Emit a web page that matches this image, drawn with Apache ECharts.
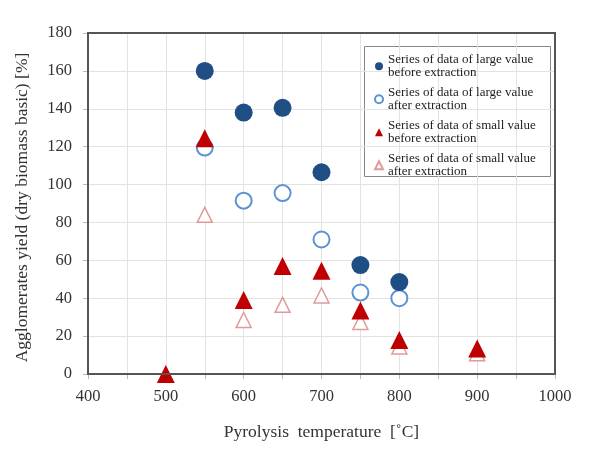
<!DOCTYPE html>
<html><head><meta charset="utf-8">
<script src="https://cdn.jsdelivr.net/npm/echarts@6/dist/echarts.min.js"></script>
<style>html,body{margin:0;padding:0;background:#fff}#c{width:603px;height:461px}</style>
</head><body><div id="c"></div>
<script>
const seriesNames = [
  "Series of data of large value\nbefore extraction",
  "Series of data of large value\nafter extraction",
  "Series of data of small value\nbefore extraction",
  "Series of data of small value\nafter extraction"
];
const largeBefore = [[550,160],[600,138],[650,140.5],[700,106.5],[750,57.5],[800,48.5]];
const largeAfter  = [[550,119.5],[600,91.5],[650,95.5],[700,71],[750,43],[800,40]];
const smallBefore = [[500,0],[550,124.5],[600,39],[650,57],[700,54.5],[750,33.5],[800,18],[900,13.5]];
const smallAfter  = [[550,84],[600,28.5],[650,36.5],[700,41.5],[750,27.5],[800,14.5],[900,11]];
const xTitle = "Pyrolysis  temperature  [\u02DAC]";
const yTitle = "Agglomerates yield (dry biomass basic) [%]";

const font = "Liberation Serif";
const chart = echarts.init(document.getElementById('c'));
chart.setOption({
  animation:false,
  textStyle:{fontFamily:font},
  grid:{left:88,right:48,top:33,bottom:87},
  xAxis:{type:'value',min:400,max:1000,interval:50,
    axisLine:{lineStyle:{color:'#555',width:2}},
    axisTick:{show:true,interval:0,length:5,lineStyle:{color:'#bbb'}},
    splitLine:{show:true,lineStyle:{color:'#e3e3e3'}},
    axisLabel:{color:'#333',fontSize:16.5,fontFamily:font,margin:14,
      formatter:v=> (v%100===0? String(v):'')},
    name:xTitle,nameLocation:'middle',nameGap:49,
    nameTextStyle:{color:'#333',fontSize:17.5,fontFamily:font}
  },
  yAxis:{type:'value',min:0,max:180,interval:20,
    axisLine:{show:true,lineStyle:{color:'#555',width:2}},
    axisTick:{show:true,length:5,lineStyle:{color:'#bbb'}},
    splitLine:{show:true,lineStyle:{color:'#e3e3e3'}},
    axisLabel:{color:'#333',fontSize:16.5,fontFamily:font,margin:16},
    name:yTitle,nameLocation:'middle',nameGap:57,
    nameTextStyle:{color:'#333',fontSize:17.5,fontFamily:font,padding:[0,8,0,0]}
  },
  graphic:[
    {type:'rect',shape:{x:88,y:33,width:467,height:341},
      style:{fill:'none',stroke:'#555',lineWidth:2},silent:true,z:10},
    {type:'rect',shape:{x:364.5,y:46.5,width:186,height:130},
      style:{fill:'#fff',stroke:'#888',lineWidth:1},silent:true,z:0,zlevel:0}
  ],
  legend:{orient:'vertical',left:374,top:46,
    padding:0,itemGap:-7.5,itemWidth:8,itemHeight:8,
    textStyle:{fontFamily:font,fontSize:13,color:'#222',lineHeight:13.5,padding:[13.5,0,0,0]},
    data:[
      {name:seriesNames[0],icon:'circle'},
      {name:seriesNames[1],icon:'circle'},
      {name:seriesNames[2],icon:'triangle'},
      {name:seriesNames[3],icon:'triangle'}
    ]
  },
  series:[
    {name:seriesNames[0],type:'scatter',data:largeBefore,symbol:'circle',symbolSize:18,
      itemStyle:{color:'#1F4E85',opacity:1},z:3},
    {name:seriesNames[1],type:'scatter',data:largeAfter,symbol:'circle',symbolSize:16,
      itemStyle:{color:'#fff',borderColor:'#5B93D3',borderWidth:2,opacity:1},z:2},
    {name:seriesNames[2],type:'scatter',data:smallBefore,symbol:'triangle',symbolSize:18,
      itemStyle:{color:'#C00000',opacity:1},z:5},
    {name:seriesNames[3],type:'scatter',data:smallAfter,symbol:'triangle',symbolSize:15,
      itemStyle:{color:'#fff',borderColor:'#E09A9A',borderWidth:1.5,opacity:1},z:4}
  ]
});
</script></body></html>
